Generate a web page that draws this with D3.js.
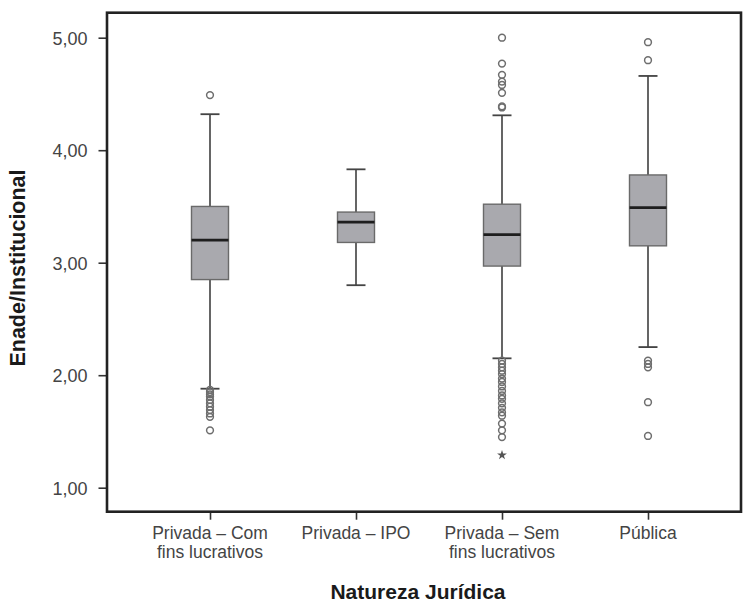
<!DOCTYPE html>
<html><head><meta charset="utf-8">
<script src="https://cdn.jsdelivr.net/npm/d3@7"></script>
<style>html,body{margin:0;padding:0;background:#fff;}svg{display:block;}</style>
</head><body>
<svg id="chart" width="744" height="602"></svg>
<script>
const categories = ["Privada – Com fins lucrativos", "Privada – IPO", "Privada – Sem fins lucrativos", "Pública"];
const categoryLines = [["Privada – Com", "fins lucrativos"], ["Privada – IPO"], ["Privada – Sem", "fins lucrativos"], ["Pública"]];
const whiskerLow = [1.88, 2.80, 2.15, 2.25];
const q1 = [2.85, 3.18, 2.97, 3.15];
const median = [3.20, 3.36, 3.25, 3.49];
const q3 = [3.50, 3.45, 3.52, 3.78];
const whiskerHigh = [4.32, 3.83, 4.31, 4.66];
const outliers0 = [4.49, 1.87, 1.85, 1.83, 1.81, 1.78, 1.75, 1.72, 1.69, 1.66, 1.63, 1.51];
const outliers1 = [];
const outliers2 = [5.00, 4.77, 4.67, 4.61, 4.58, 4.51, 4.39, 4.38, 2.13, 2.10, 2.07, 2.04, 2.01, 1.97, 1.94, 1.90, 1.86, 1.82, 1.79, 1.75, 1.71, 1.67, 1.64, 1.57, 1.51, 1.45];
const outliers3 = [4.96, 4.80, 2.13, 2.10, 2.07, 1.76, 1.46];
const extremes2 = [1.29];
const yTicks = [1, 2, 3, 4, 5];
const yTitle = "Enade/Institucional";
const xTitle = "Natureza Jurídica";

const outliers = [outliers0, outliers1, outliers2, outliers3];
const extremes = [[], [], extremes2, []];

const svg = d3.select("#chart");
const frame = {l: 107, r: 741, t: 12.7, b: 511.7};
const y = d3.scaleLinear().domain([1, 5]).range([487.7, 37.7]);
const x = d3.scalePoint().domain(categories).range([210, 648]);
const boxHalf = 18.5, capHalf = 9.5;
const font = "'Liberation Sans', Arial, Helvetica, sans-serif";

// Y axis ticks
const yAxis = d3.axisLeft(y).tickValues(yTicks).tickSize(8).tickPadding(11)
  .tickFormat(d => d3.format(".2f")(d).replace(".", ","));
const gy = svg.append("g").attr("transform", `translate(${frame.l - 0.5},0)`).call(yAxis);
gy.select(".domain").remove();
gy.selectAll(".tick line").attr("stroke", "#333").attr("stroke-width", 1.6);
gy.selectAll(".tick text").attr("font-family", font).attr("font-size", 18).attr("fill", "#444").attr("dy", "0.36em");

// X axis ticks
const xAxis = d3.axisBottom(x).tickSize(8).tickFormat("");
const gx = svg.append("g").attr("transform", `translate(0,${frame.b})`).call(xAxis);
gx.select(".domain").remove();
gx.selectAll(".tick line").attr("stroke", "#333").attr("stroke-width", 1.6);

// Category labels
categories.forEach((c, i) => {
  const t = svg.append("text").attr("x", x(c)).attr("y", 538.5)
    .attr("text-anchor", "middle").attr("font-family", font).attr("font-size", 17.5).attr("fill", "#444");
  categoryLines[i].forEach((ln, j) => {
    t.append("tspan").attr("x", x(c)).attr("dy", j === 0 ? 0 : 19.5).text(ln);
  });
});

// Boxes
const g = svg.append("g");
categories.forEach((c, i) => {
  const cx = x(c);
  // whiskers
  g.append("line").attr("x1", cx).attr("x2", cx).attr("y1", y(whiskerHigh[i])).attr("y2", y(q3[i]))
    .attr("stroke", "#555").attr("stroke-width", 1.8);
  g.append("line").attr("x1", cx).attr("x2", cx).attr("y1", y(q1[i])).attr("y2", y(whiskerLow[i]))
    .attr("stroke", "#555").attr("stroke-width", 1.8);
  g.append("line").attr("x1", cx - capHalf).attr("x2", cx + capHalf).attr("y1", y(whiskerHigh[i])).attr("y2", y(whiskerHigh[i]))
    .attr("stroke", "#444").attr("stroke-width", 1.8);
  g.append("line").attr("x1", cx - capHalf).attr("x2", cx + capHalf).attr("y1", y(whiskerLow[i])).attr("y2", y(whiskerLow[i]))
    .attr("stroke", "#444").attr("stroke-width", 1.8);
  // box
  g.append("rect").attr("x", cx - boxHalf).attr("width", 2 * boxHalf)
    .attr("y", y(q3[i])).attr("height", y(q1[i]) - y(q3[i]))
    .attr("fill", "#a9a9ae").attr("stroke", "#6a6a6a").attr("stroke-width", 1.4);
  g.append("line").attr("x1", cx - boxHalf).attr("x2", cx + boxHalf).attr("y1", y(median[i])).attr("y2", y(median[i]))
    .attr("stroke", "#1e1e1e").attr("stroke-width", 2.8);
  // outliers
  g.selectAll(null).data(outliers[i]).enter().append("circle")
    .attr("cx", cx).attr("cy", d => y(d)).attr("r", 3.4)
    .attr("fill", "none").attr("stroke", "#6e6e6e").attr("stroke-width", 1.5);
  g.selectAll(null).data(extremes[i]).enter().append("path")
    .attr("d", d3.symbol().type(d3.symbolStar).size(30))
    .attr("transform", d => `translate(${cx},${y(d)})`).attr("fill", "#555");
});

// Frame
svg.append("rect").attr("x", frame.l).attr("y", frame.t).attr("width", frame.r - frame.l).attr("height", frame.b - frame.t)
  .attr("fill", "none").attr("stroke", "#222").attr("stroke-width", 2.6);

// Titles
svg.append("text").attr("transform", `translate(25,268) rotate(-90)`).attr("text-anchor", "middle")
  .attr("font-family", font).attr("font-weight", "bold").attr("font-size", 21.5).attr("fill", "#1a1a1a").text(yTitle);
svg.append("text").attr("x", 418).attr("y", 599).attr("text-anchor", "middle")
  .attr("font-family", font).attr("font-weight", "bold").attr("font-size", 21).attr("fill", "#1a1a1a").text(xTitle);
</script>
</body></html>
